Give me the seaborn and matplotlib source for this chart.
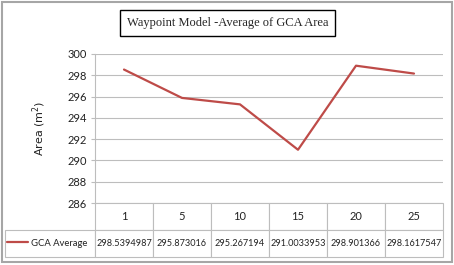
import pandas as pd
import seaborn as sns
import matplotlib.pyplot as plt
from matplotlib.patches import Rectangle

# Chart data
waypoints = ['1', '5', '10', '15', '20', '25']
gca_average = [298.5394987, 295.873016, 295.267194, 291.0033953, 298.901366, 298.1617547]
value_labels = ['298.5394987', '295.873016', '295.267194', '291.0033953', '298.901366', '298.1617547']
y_ticks = [286, 288, 290, 292, 294, 296, 298, 300]

df = pd.DataFrame({'waypoint': waypoints, 'area': gca_average})

sns.set_style('white')
plt.rcParams['font.family'] = ['Lato', 'DejaVu Sans']

fig = plt.figure(figsize=(4.54, 2.65), dpi=100)
ax = fig.add_axes([95 / 454, 62 / 265, 348 / 454, 149 / 265])

sns.lineplot(data=df, x='waypoint', y='area', sort=False, color='#BE4B48',
             linewidth=1.6, ax=ax, label='GCA Average')

ax.set_xlim(-0.5, len(waypoints) - 0.5)
ax.set_ylim(286, 300)
ax.set_yticks(y_ticks)
ax.set_yticklabels([str(t) for t in y_ticks], fontsize=8, color='#222222')
ax.yaxis.grid(True, color='#BDBDBD', linewidth=0.8)
ax.set_axisbelow(True)
ax.tick_params(axis='y', length=3, width=0.8, color='#BDBDBD', left=True, pad=3)
ax.set_xticks([])
ax.set_xlabel('')
ax.set_ylabel('Area (m$^2$)', fontsize=8, family='DejaVu Sans', labelpad=14, color='#222222')
for side in ['top', 'right', 'bottom']:
    ax.spines[side].set_visible(False)
ax.spines['left'].set_color('#BDBDBD')
ax.spines['left'].set_linewidth(0.8)

# Data table under the plot
cell_text = [[''] + value_labels]
col_labels = [''] + waypoints
col_widths = [90 / 438] + [58 / 438] * len(waypoints)
tab = ax.table(cellText=cell_text, colLabels=col_labels, colWidths=col_widths,
               cellLoc='center', bbox=[-90 / 348, -54 / 149, 438 / 348, 54 / 149])
tab.auto_set_font_size(False)
for (r, c), cell in tab.get_celld().items():
    cell.set_edgecolor('#BDBDBD')
    cell.set_linewidth(0.8)
    cell.get_text().set_fontsize(8 if r == 0 else 6.6)
    cell.get_text().set_color('#222222')
tab[0, 0].visible_edges = ''

# legend key inside the first data cell
leg = ax.legend(loc='center left', bbox_to_anchor=(-88 / 348, -40 / 149),
                frameon=False, fontsize=6.8, handlelength=2.2, handletextpad=0.3,
                borderaxespad=0, borderpad=0)
for t in leg.get_texts():
    t.set_color('#222222')

# Title box
fig.text(0.501, 0.912, 'Waypoint Model -Average of GCA Area', ha='center', va='center',
         family='Liberation Serif', fontsize=9,
         bbox=dict(boxstyle='square,pad=0.55', facecolor='white', edgecolor='black', linewidth=1))

# chart frame
fig.add_artist(Rectangle((0.005, 0.012), 0.99, 0.982, transform=fig.transFigure,
                         fill=False, edgecolor='#A6A6A6', linewidth=1.5))

fig.savefig('out.png', dpi=100)
